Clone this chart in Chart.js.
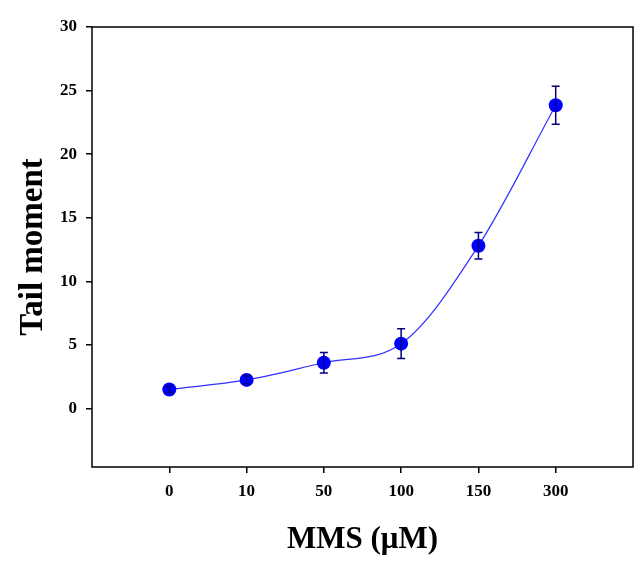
<!DOCTYPE html>
<html>
<head>
<meta charset="utf-8">
<script src="https://cdn.jsdelivr.net/npm/chart.js@4/dist/chart.umd.min.js"></script>
<style>
  html, body { margin: 0; padding: 0; background: #fff; }
  #wrap { width: 644px; height: 568px; }
</style>
</head>
<body>
<div id="wrap"><canvas id="lineChart"></canvas></div>
<script>
// data
var doses = ['0', '10', '50', '100', '150', '300'];
var tailMoment = [1.5, 2.25, 3.6, 5.1, 12.8, 23.85];
var tailErr = [0.25, 0.35, 0.8, 1.17, 1.05, 1.5];
var yTicks = [0, 5, 10, 15, 20, 25, 30];

var points = tailMoment.map(function(v, i) { return { x: i, y: v }; });

// error bars + closed frame
var errorBars = {
    id: 'errorBars',
    afterDatasetsDraw: function(chart) {
        var ctx = chart.ctx;
        var xs = chart.scales.x, ys = chart.scales.y;
        ctx.save();
        ctx.strokeStyle = '#000080';
        ctx.lineWidth = 1.5;
        tailMoment.forEach(function(v, i) {
            var px = xs.getPixelForValue(i);
            var top = ys.getPixelForValue(v + tailErr[i]);
            var bot = ys.getPixelForValue(v - tailErr[i]);
            ctx.beginPath();
            ctx.moveTo(px, top); ctx.lineTo(px, bot);
            ctx.moveTo(px - 4, top); ctx.lineTo(px + 4, top);
            ctx.moveTo(px - 4, bot); ctx.lineTo(px + 4, bot);
            ctx.stroke();
        });
        ctx.restore();
    },
    afterDraw: function(chart) {
        var a = chart.chartArea, ctx = chart.ctx;
        ctx.save();
        ctx.strokeStyle = '#000';
        ctx.lineWidth = 1.5;
        ctx.strokeRect(a.left, a.top, a.right - a.left, a.bottom - a.top);
        ctx.restore();
    }
};

var ctx = document.getElementById('lineChart').getContext('2d');
var lineChart = new Chart(ctx, {
    type: 'scatter',
    data: {
        datasets: [{
            data: points,
            showLine: true,
            borderColor: '#3030ff',
            borderWidth: 1.2,
            cubicInterpolationMode: 'monotone',
            pointRadius: 7,
            pointBackgroundColor: '#0000ff',
            pointBorderColor: '#0000ff',
            pointBorderWidth: 0
        }]
    },
    options: {
        responsive: true,
        maintainAspectRatio: false,
        animation: false,
        layout: { padding: { top: 27, right: 11, left: 0, bottom: 0 } },
        plugins: {
            legend: { display: false },
            tooltip: { enabled: false }
        },
        scales: {
            x: {
                type: 'linear',
                min: -1,
                max: 6,
                afterBuildTicks: function(s) {
                    s.ticks = doses.map(function(d, i) { return { value: i }; });
                },
                afterFit: function(s) { s.height = 101; },
                border: { display: false },
                grid: { drawOnChartArea: false, drawTicks: true, tickLength: 6, color: '#000', lineWidth: 1.5 },
                ticks: {
                    padding: 8,
                    color: '#000',
                    font: { family: 'Liberation Serif', size: 17, weight: 'bold' },
                    callback: function(v) { return doses[v]; }
                },
                title: {
                    display: true,
                    text: 'MMS (μM)',
                    color: '#000',
                    font: { family: 'Liberation Serif', size: 31, weight: 'bold' },
                    padding: { top: 0, bottom: 9 }
                }
            },
            y: {
                min: -4.6,
                max: 30,
                afterBuildTicks: function(s) {
                    s.ticks = yTicks.map(function(v) { return { value: v }; });
                },
                afterFit: function(s) { s.width = 92; },
                border: { display: false },
                grid: { drawOnChartArea: false, drawTicks: true, tickLength: 6, color: '#000', lineWidth: 1.5 },
                ticks: {
                    padding: 9,
                    color: '#000',
                    font: { family: 'Liberation Serif', size: 17, weight: 'bold' }
                },
                title: {
                    display: true,
                    text: 'Tail moment',
                    color: '#000',
                    font: { family: 'Liberation Serif', size: 33, weight: 'bold' },
                    padding: { top: 14, bottom: 0 }
                }
            }
        }
    },
    plugins: [errorBars]
});
</script>
</body>
</html>
